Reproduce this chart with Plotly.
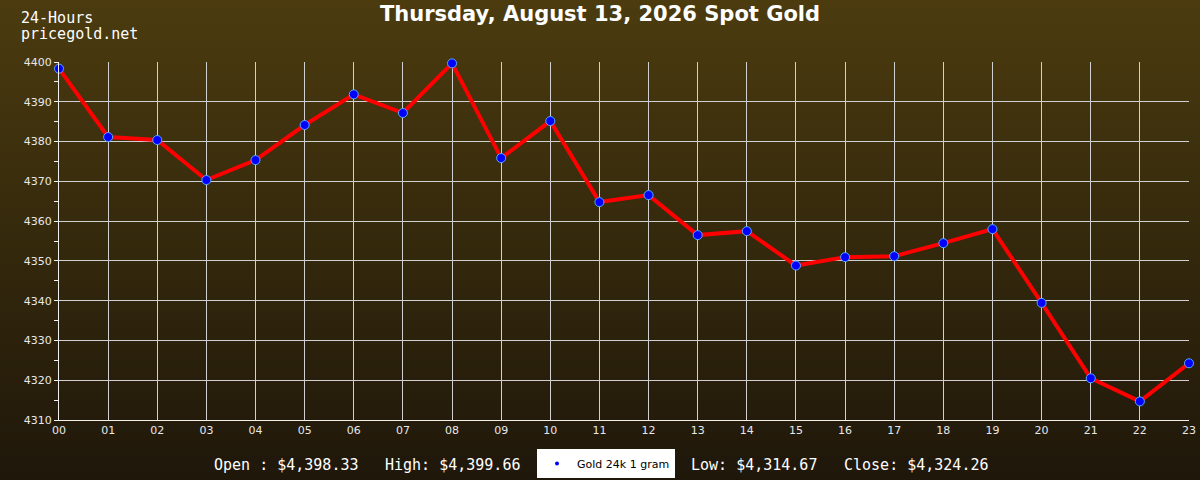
import plotly.graph_objects as go

# hourly spot gold prices
hours = ["00", "01", "02", "03", "04", "05", "06", "07", "08", "09", "10", "11",
         "12", "13", "14", "15", "16", "17", "18", "19", "20", "21", "22", "23"]
prices = [4398.33, 4381.14, 4380.38, 4370.32, 4375.35, 4384.16, 4391.86, 4387.18,
          4399.66, 4375.85, 4385.16, 4364.78, 4366.54, 4356.48, 4357.48, 4348.83,
          4350.94, 4351.19, 4354.46, 4357.99, 4339.44, 4320.49, 4314.67, 4324.26]
y_ticks = [4310, 4320, 4330, 4340, 4350, 4360, 4370, 4380, 4390, 4400]

title = "Thursday, August 13, 2026 Spot Gold"
series_name = "Gold 24k 1 gram"
open_txt = "Open : $4,398.33"
high_txt = "High: $4,399.66"
low_txt = "Low: $4,314.67"
close_txt = "Close: $4,324.26"

W, H = 1200, 480
L, R, T, B = 59, 11, 62, 60
pw, ph = W - L - R, H - T - B


def px(x):  # pixel x -> paper x
    return (x - L) / pw


def py(y):  # pixel y -> paper y
    return (H - B - y) / ph


fig = go.Figure()

fig.add_trace(go.Scatter(
    x=hours, y=prices, mode="lines+markers",
    line=dict(color="#ff0000", width=4),
    marker=dict(size=9, color="#0000ff", line=dict(color="#55aaff", width=1)),
    cliponaxis=False, showlegend=False,
))
# legend entry only shows the marker
fig.add_trace(go.Scatter(
    x=[None], y=[None], mode="markers", name=series_name,
    marker=dict(size=4, color="#0000ff"),
))

# background gradient built from thin rectangles
top = (0x4b, 0x3b, 0x0f)
bot = (0x1f, 0x17, 0x0a)
n = 60
shapes = []
for i in range(n):
    f = i / (n - 1)
    c = tuple(round(top[k] + (bot[k] - top[k]) * f) for k in range(3))
    y0 = i * H / n
    y1 = (i + 1) * H / n + 1
    shapes.append(dict(
        type="rect", xref="paper", yref="paper", layer="below",
        x0=px(0), x1=px(W), y0=py(y1), y1=py(y0),
        fillcolor="rgb(%d,%d,%d)" % c, line=dict(width=0),
    ))

mono = "DejaVu Sans Mono"
annotations = [
    dict(text="24-Hours", x=px(19), y=py(18), xanchor="left", yanchor="middle",
         font=dict(family=mono, size=15, color="white")),
    dict(text="pricegold.net", x=px(19), y=py(34), xanchor="left", yanchor="middle",
         font=dict(family=mono, size=15, color="white")),
    dict(text=open_txt, x=px(212), y=py(465), xanchor="left", yanchor="middle",
         font=dict(family=mono, size=15, color="white")),
    dict(text=high_txt, x=px(383), y=py(465), xanchor="left", yanchor="middle",
         font=dict(family=mono, size=15, color="white")),
    dict(text=low_txt, x=px(689), y=py(465), xanchor="left", yanchor="middle",
         font=dict(family=mono, size=15, color="white")),
    dict(text=close_txt, x=px(842), y=py(465), xanchor="left", yanchor="middle",
         font=dict(family=mono, size=15, color="white")),
]
for a in annotations:
    a.update(xref="paper", yref="paper", showarrow=False)

fig.update_layout(
    width=W, height=H,
    margin=dict(l=L, r=R, t=T, b=B, autoexpand=False),
    paper_bgcolor="#2e230c",
    plot_bgcolor="rgba(0,0,0,0)",
    title=dict(text="<b>" + title + "</b>", x=0.5, xanchor="center", y=1 - 14 / H,
               yanchor="middle", font=dict(family="DejaVu Sans", size=21, color="white")),
    shapes=shapes,
    annotations=annotations,
    showlegend=True,
    legend=dict(x=px(537), y=py(449), xanchor="left", yanchor="top",
                orientation="h", bgcolor="white",
                font=dict(family="DejaVu Sans", size=11, color="black"),
                itemwidth=30, tracegroupgap=0),
    xaxis=dict(type="category", range=[0, 23], showgrid=True, gridcolor="#d0d0d0",
               gridwidth=1, showline=True, linecolor="#f0f0f0", linewidth=1,
               ticks="", tickfont=dict(family="DejaVu Sans", size=11, color="#e8e8e8"),
               zeroline=False, fixedrange=True),
    yaxis=dict(range=[4310, 4400], tickvals=y_ticks, showgrid=True, gridcolor="#d0d0d0",
               gridwidth=1, showline=True, linecolor="#f0f0f0", linewidth=1,
               ticks="outside", ticklen=4, tickcolor="#f0f0f0",
               minor=dict(dtick=5, ticks="outside", ticklen=4, tickcolor="#f0f0f0",
                          showgrid=False),
               tickfont=dict(family="DejaVu Sans", size=11, color="#e8e8e8"),
               zeroline=False, fixedrange=True),
)

fig.write_html("out.html", config={"displayModeBar": False},
               post_script="document.body.style.margin='0';")
